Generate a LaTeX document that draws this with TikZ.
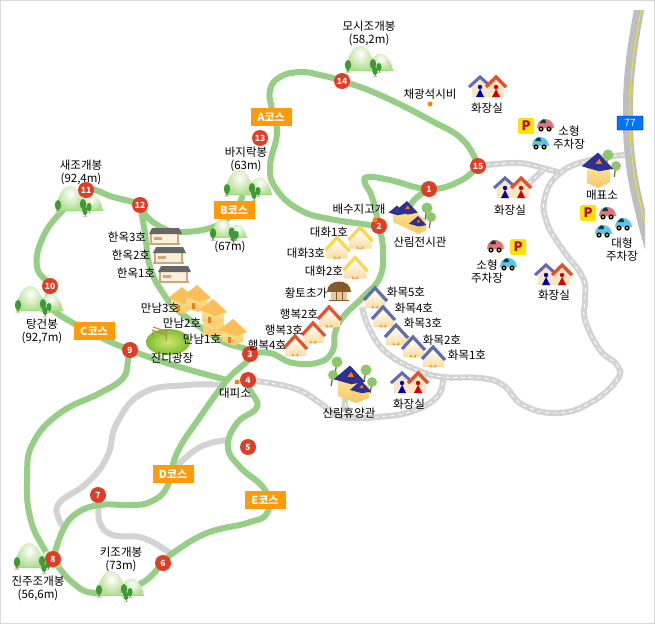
\documentclass[tikz,border=0pt]{standalone}
\usepackage{fontspec}
\setmainfont{Noto Sans CJK KR}
\definecolor{trailgreen}{HTML}{97CE86}
\definecolor{roadgray}{HTML}{D3D3D3}
\definecolor{stationred}{HTML}{DF3E26}
\definecolor{badgeorange}{HTML}{FF9A0A}
\definecolor{hillgreen}{HTML}{B4DE92}
\definecolor{treegreen}{HTML}{3F9A35}
\definecolor{trunkbrown}{HTML}{A08868}
\definecolor{wallcream}{HTML}{F9E6C4}
\definecolor{hallblue}{HTML}{2F3192}
\definecolor{wallyellow}{HTML}{FCE394}
\definecolor{walltan}{HTML}{F7C766}
\definecolor{rooforange}{HTML}{FCBE58}
\definecolor{roofblue}{HTML}{5E6CB8}
\definecolor{roofred}{HTML}{E8502C}
\definecolor{roofyellow}{HTML}{F6D84A}
\definecolor{lawncore}{HTML}{D2E76E}
\definecolor{lawnedge}{HTML}{7DBC33}
\definecolor{leafgreen}{HTML}{8CC86A}
\definecolor{carred}{HTML}{E8707A}
\definecolor{carblue}{HTML}{5CC4E8}
\tikzset{
    station/.style={shape=circle,fill=stationred,inner sep=0pt,minimum size=16pt,
        text=white,font=\fontsize{8.5}{8.5}\selectfont\bfseries},
    badge/.style={fill=badgeorange,text=white,inner sep=0pt,minimum width=41pt,minimum height=18pt,
        font=\fontsize{11}{11}\selectfont\bfseries},
    place/.style={inner sep=0pt,align=center,font=\fontsize{11.5}{13}\selectfont},
    trail/.style={draw=trailgreen,line width=6pt,line join=round},
    lane/.style={draw=roadgray,line width=6pt},
    road/.style={draw=roadgray,line width=6pt,
        postaction={draw=white,line width=0.8pt,dash pattern=on 4pt off 4pt}},
    smoothline/.style={smooth,tension=0.75},
    pinedot/.style={fill=orange,shape=circle,inner sep=0pt,minimum size=5pt},
    pinetree/.pic={
        \fill[trunkbrown] (-0.6,2) rectangle (0.6,7);
        \fill[trunkbrown!50] (0,7) ellipse (3 and 0.8);
        \fill[treegreen] (0,0) ellipse (3.2 and 5);
    },
    hill/.pic={
        \shade[inner color=white,outer color=hillgreen] (9,0) .. controls (12,-22) and (28,-22) .. (33,0) -- cycle;
        \shade[inner color=white,outer color=hillgreen] (-14,0) .. controls (-11,-32) and (11,-32) .. (15,0) -- cycle;
        \draw[hillgreen!80!green] (-14,0) -- (33,0);
        \path (-12,-5) pic {pinetree} (13,-6) pic {pinetree} (19,-3) pic[scale=.8] {pinetree} (15,1) pic[scale=.8] {pinetree};
    },
    cottage/.pic={
        \shade[top color=white,bottom color=walltan!60!white] (-10,1) -- (0,-9) -- (11,2) -- (11,10) -- (-10,10) -- cycle;
        \draw[#1,line width=3.2pt] (-11,2) -- (0,-10) -- (12,3);
        \fill[orange!85!brown] (-3,10) -- (-3,7) arc (180:0:3) -- (3,10) -- cycle;
    },
    toilet/.pic={
        \fill[wallcream] (-15,-1) -- (-7,-9) -- (2,-1) -- (2,10) -- (-15,10) -- cycle;
        \fill[wallcream] (2,-1) -- (9,-9) -- (17,-1) -- (17,10) -- (2,10) -- cycle;
        \draw[roofblue,line width=3pt] (-18,0) -- (-7,-10) -- (2,-2);
        \draw[roofred,line width=3.2pt] (-1,0) -- (9,-10) -- (19,0);
        \fill[blue!70!black] (-7,0) circle (2.2) (-7,2) -- (-11,10) -- (-3,10) -- cycle;
        \fill[red!85!black] (9,0) circle (2.2) (9,2) -- (5,10) -- (13,10) -- cycle;
    },
    villa/.pic={
        \shade[top color=wallyellow,bottom color=walltan] (-11,-2) -- (-11,9) -- (1,14) -- (10,9) -- (10,-2) -- cycle;
        \fill[rooforange] (-14,-2) -- (0,-13) -- (14,0) -- (2,4) -- cycle;
        \fill[orange!60!brown] (-5,5) rectangle (-2,11);
    },
    hanok/.pic={
        \fill[wallcream!60!white] (-14,-2) rectangle (13,7);
        \fill[brown!70] (-11,1) rectangle (-3,4);
        \draw[brown!70,line width=1.2pt] (-14,-2) -- (-14,8) (13,-2) -- (13,8) (-16,8) -- (15,8);
        \fill[gray!80!black] (-13,-8) -- (14,-8) -- (17,-2) -- (-16,-2) -- cycle;
    },
    hallroof/.pic={
        \fill[hallblue] (-13,1) -- (0,-10) -- (12,3) -- (1,5) -- cycle;
        \fill[orange] (-2,-1) -- (1,-5) -- (3,-1) -- cycle;
    },
    roundtree/.pic={
        \draw[brown!70!black,line width=1.2pt] (0,0) -- (-2,12);
        \fill[leafgreen] (0,0) circle (5.5);
    },
    car/.pic={
        \fill[#1] (-8,3) .. controls (-8,-9) and (8,-9) .. (9,3) -- cycle;
        \fill[teal!50!black] (-5,-2) .. controls (-3,-7) and (1,-7) .. (1,-2) -- cycle;
        \fill[black] (-4,4) circle (2.6) (4,4) circle (2.6);
        \fill[yellow] (-4,4) circle (1.1) (4,4) circle (1.1);
    },
    parking/.pic={
        \node (#1) [fill=yellow!85!orange,text=red!75!black,rounded corners=1.5pt,inner sep=0pt,minimum size=16pt,
            font=\fontsize{13}{13}\selectfont\bfseries] {P};
    },
}
\begin{document}
\begin{tikzpicture}[x=1pt,y=-1pt]
    \useasboundingbox (0,0) rectangle (655,624);
    \fill[white] (0,0) rectangle (655,624);
    \draw[gray!30,line width=1.5pt] (0.5,0.5) rectangle (654.5,623.5);

    \coordinate (s1) at (429,189);
    \coordinate (s2) at (379,226);
    \coordinate (s3) at (250,354);
    \coordinate (s4) at (248,380);
    \coordinate (s5) at (248,447);
    \coordinate (s6) at (163,563);
    \coordinate (s7) at (98,495);
    \coordinate (s8) at (53,559);
    \coordinate (s9) at (130,350);
    \coordinate (s10) at (50,286);
    \coordinate (s11) at (86,190);
    \coordinate (s12) at (140,205);
    \coordinate (s13) at (260,138);
    \coordinate (s14) at (342,81);
    \coordinate (s15) at (478,166);

    % highway
    \begin{scope}
        \clip (600,10) rectangle (645,260);
        \draw[draw=roadgray!90!black,line width=10pt] plot[smoothline] coordinates {(640,5) (631,60) (628,113) (631,165) (641,215) (652,255)};
        \draw[draw=yellow!90!orange,line width=0.8pt] plot[smoothline] coordinates {(642,5) (633,60) (630,113) (633,165) (643,215) (654,255)};
    \end{scope}

    % roads
    \draw[lane] plot[smoothline] coordinates {(222,385) (187,385) (143,393) (117,423) (107,457) (87,483) (60,502) (58,517) (65,528)};
    \draw[lane] plot[smoothline] coordinates {(227,440) (200,447) (177,466)};
    \draw[lane] plot[smoothline] coordinates {(99,505) (100,523) (113,535) (143,538) (170,553)};
    \draw[road] plot[smoothline] coordinates {(s15) (517,163) (543,168) (560,173)};
    \draw[road] plot[smoothline] coordinates {(543,170) (527,185)};
    \draw[road] plot[smoothline] coordinates {(625,155) (590,160) (560,173) (545,197) (547,223) (563,250) (583,278) (585,300) (585,320) (600,350) (617,365) (617,380) (590,403) (557,413) (523,405) (503,385) (480,378) (443,377) (417,370) (387,353) (370,330) (362,307)};
    \draw[road] plot[smoothline] coordinates {(s4) (293,388) (320,403) (335,415) (355,418) (377,417) (410,412) (437,397) (443,377)};
    \draw[road] (345,395) -- (345,412);

    % trails
    \draw[trail] plot[smoothline] coordinates {(s15) (463,140) (430,120) (380,95) (s14) (320,75) (300,72) (280,77) (270,90) (272,110) (277,133) (270,167) (277,190) (300,210) (330,219) (s2)};
    \draw[trail] plot[smoothline] coordinates {(s15) (460,181) (s1) (390,180) (368,177) (365,183) (372,197) (s2) (383,250) (380,277) (363,297) (343,317) (335,333) (333,350) (320,362) (293,363) (270,353) (s3)};
    \draw[trail] plot[smoothline] coordinates {(s1) (415,199) (408,210)};
    \draw[trail] plot[smoothline] coordinates {(243,195) (233,213) (213,227) (183,232) (165,229) (147,217) (s12) (113,197) (s11) (63,210) (43,237) (37,267) (s10) (47,300) (53,310) (73,323) (100,337) (s9) (173,365) (227,380)};
    \draw[trail] plot[smoothline] coordinates {(s12) (145,233) (150,267) (163,293) (180,312) (220,340) (s3) (227,380) (200,417) (177,453) (167,487) (150,502) (130,505) (100,505) (77,513) (63,530) (s8)};
    \draw[trail] plot[smoothline] coordinates {(s9) (128,360) (123,378) (100,393) (60,413) (33,443) (27,477) (30,517) (43,547) (s8)};
    \draw[trail] plot[smoothline] coordinates {(s8) (73,583) (97,593) (138,585) (s6) (173,553) (207,533) (247,523) (267,513) (265,490) (240,467) (228,447) (237,423) (257,407) (250,390) (s4)};

    % hills
    \path (70,210) pic {hill} (30,310) pic {hill} (239,194) pic {hill} (360,70) pic {hill}
        (29,567) pic {hill} (111,595) pic {hill} (222,237) pic[scale=.75] {hill};

    % houses
    \foreach \px/\py in {375/298,383/317,396/335,413/347,433/357}
        \path (\px,\py) pic {cottage=roofblue};
    \foreach \px/\py in {329/317,313/333,295/346}
        \path (\px,\py) pic {cottage=roofred};
    \foreach \px/\py in {360/238,337/248,355/268}
        \path (\px,\py) pic[scale=1.05] {cottage=roofyellow};
    \foreach \px/\py in {487/87,512/188,553/275,409/383}
        \path (\px,\py) pic {toilet};
    \foreach \px/\py in {165/236,169/255,174/274}
        \path (\px,\py) pic {hanok};
    \shade[inner color=lawncore,outer color=lawnedge] (168,342) ellipse (22 and 13);
    \draw[brown,line width=1pt] (153,327) -- (168,332) (152,330) -- (167,335) (153,331) -- (153,338) (166,335) -- (166,341);
    \shade[top color=wallyellow,bottom color=walltan] (203,314) rectangle (224,335);
    \foreach \px/\py in {182/300,197/298,213/312,233/332}
        \path (\px,\py) pic {villa};
    \fill[brown!70!black] (327,292) .. controls (327,278) and (351,278) .. (351,292) -- cycle;
    \fill[wallcream!70!brown] (331,292) rectangle (347,300);
    \draw[brown!70!black] (329,300) -- (349,300) (336,292) -- (336,300) (342,292) -- (342,300);

    % halls
    \path (427,208) pic {roundtree} (431,217) pic[scale=.9] {roundtree} (608,155) pic {roundtree} (616,166) pic[scale=.9] {roundtree}
        (337,362) pic {roundtree} (333,375) pic[scale=.9] {roundtree} (366,370) pic {roundtree} (372,382) pic[scale=.9] {roundtree};
    \shade[top color=wallyellow,bottom color=walltan] (587,167) -- (587,183) -- (598,188) -- (610,182) -- (610,167) -- cycle;
    \path (598,165) pic[scale=1.25] {hallroof};
    \shade[top color=wallyellow,bottom color=walltan] (393,213) -- (393,222) -- (419,234) -- (426,230) -- (426,220) -- (410,208) -- cycle;
    \path (397,212) pic[scale=.65] {hallroof} (407,210) pic[scale=.9] {hallroof} (418,223) pic[scale=.7] {hallroof};
    \shade[top color=wallyellow,bottom color=walltan] (338,380) -- (338,396) -- (356,403) -- (369,398) -- (369,385) -- cycle;
    \path (350,378) pic[scale=1.25] {hallroof} (361,389) pic[scale=.85] {hallroof};

    % parking
    \path (526,126) pic {parking=pa} (588,213) pic {parking=pb} (518,247) pic {parking=pc};
    \path (545,125) pic {car=carred} (495,246) pic {car=carred} (607,213) pic {car=carred}
        (540,143) pic {car=carblue} (508,264) pic {car=carblue} (623,224) pic {car=carblue} (603,231) pic {car=carblue};
    \node (sign77) at (630,123) [fill=blue!55!cyan,draw=blue!60!black,rounded corners=1pt,text=white,inner sep=0pt,
        minimum width=26pt,minimum height=14pt,font=\fontsize{10}{10}\selectfont] {77};

    % stations
    \foreach \sid in {1,...,15}
        \node (n\sid) at (s\sid) [station] {\sid};
    \node (dot2) at (375,220) [pinedot] {};
    \node (dot4) at (237,382) [pinedot] {};
    \node (dotstone) at (430,104) [pinedot] {};

    % course badges
    \node (coursea) at (271,117) [badge] {A코스};
    \node (courseb) at (234,210) [badge] {B코스};
    \node (coursec) at (94,331) [badge] {C코스};
    \node (coursed) at (173,474) [badge] {D코스};
    \node (coursee) at (265,500) [badge] {E코스};

    % labels
    \path (369,33) node (lmosi) [place] {모시조개봉\\(58,2m)}
        (430,94) node (lstone) [place] {채광석시비}
        (487,108) node (lwc1) [place] {화장실}
        (569,138) node (lparka) [place] {소형\\주차장}
        (602,195) node (lticket) [place] {매표소}
        (622,250) node (lparkb) [place] {대형\\주차장}
        (510,210) node (lwc2) [place] {화장실}
        (359,209) node (lpass) [place] {배수지고개}
        (420,242) node (lmuseum) [place] {산림전시관}
        (487,272) node (lparkc) [place] {소형\\주차장}
        (554,295) node (lwc3) [place] {화장실}
        (406,292) node (lhm5) [place] {화목5호}
        (414,308) node (lhm4) [place] {화목4호}
        (423,323) node (lhm3) [place] {화목3호}
        (442,340) node (lhm2) [place] {화목2호}
        (467,355) node (lhm1) [place] {화목1호}
        (409,404) node (lwc4) [place] {화장실}
        (349,413) node (lrest) [place] {산림휴양관}
        (306,293) node (lclay) [place] {황토초가}
        (299,314) node (lhb2) [place] {행복2호}
        (284,330) node (lhb3) [place] {행복3호}
        (267,345) node (lhb4) [place] {행복4호}
        (160,308) node (lmn3) [place] {만남3호}
        (182,323) node (lmn2) [place] {만남2호}
        (202,339) node (lmn1) [place] {만남1호}
        (172,358) node (llawn) [place] {잔디광장}
        (235,393) node (lshelter) [place] {대피소}
        (329,232) node (ldh1) [place] {대화1호}
        (306,253) node (ldh3) [place] {대화3호}
        (324,271) node (ldh2) [place] {대화2호}
        (127,237) node (lhn3) [place] {한옥3호}
        (131,255) node (lhn2) [place] {한옥2호}
        (136,273) node (lhn1) [place] {한옥1호}
        (81,172) node (lsae) [place] {새조개봉\\(92,4m)}
        (246,159) node (lbaji) [place] {바지락봉\\(63m)}
        (230,247) node (lsmall) [place] {(67m)}
        (42,331) node (ltang) [place] {탕건봉\\(92,7m)}
        (121,559) node (lki) [place] {키조개봉\\(73m)}
        (38,588) node (ljin) [place] {진주조개봉\\(56,6m)};
\end{tikzpicture}
\end{document}
